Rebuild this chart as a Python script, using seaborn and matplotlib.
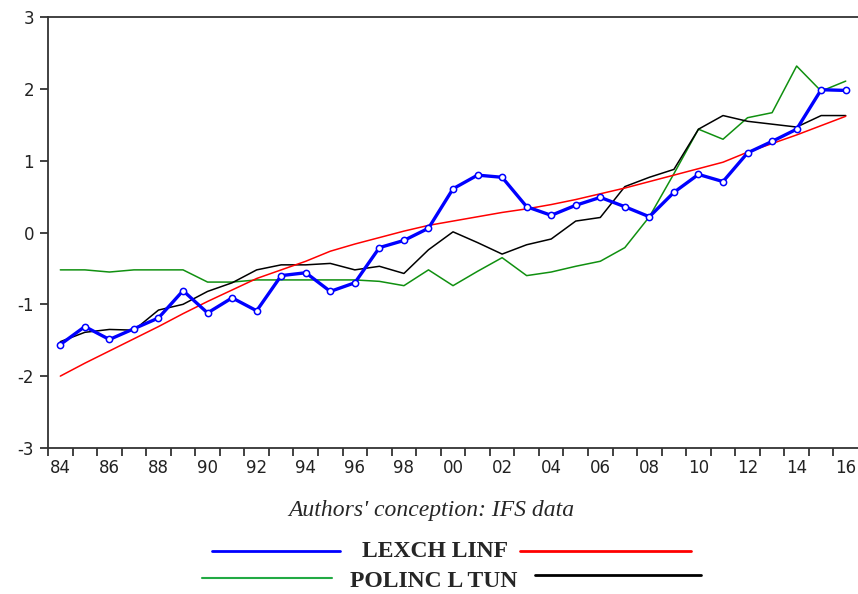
import numpy as np
import pandas as pd
import seaborn as sns
import matplotlib
matplotlib.use("Agg")
import matplotlib.pyplot as plt
from matplotlib.lines import Line2D
from matplotlib.ticker import FixedLocator, FuncFormatter

# annual series, 1984-2016
years = list(range(1984, 2017))
lexch = [-1.56, -1.31, -1.49, -1.34, -1.19, -0.81, -1.12, -0.91, -1.09, -0.60, -0.56,
         -0.82, -0.70, -0.21, -0.11, 0.06, 0.61, 0.80, 0.77, 0.36, 0.24, 0.38, 0.49,
         0.36, 0.22, 0.56, 0.81, 0.71, 1.11, 1.27, 1.44, 1.99, 1.98]
linf = [-2.00, -1.82, -1.65, -1.48, -1.31, -1.13, -0.96, -0.80, -0.64, -0.52, -0.40,
        -0.26, -0.16, -0.07, 0.02, 0.10, 0.16, 0.22, 0.28, 0.33, 0.39, 0.46, 0.54,
        0.62, 0.71, 0.80, 0.89, 0.98, 1.12, 1.24, 1.36, 1.49, 1.62]
polinc = [-0.52, -0.52, -0.55, -0.52, -0.52, -0.52, -0.69, -0.69, -0.66, -0.66, -0.66,
          -0.66, -0.66, -0.68, -0.74, -0.52, -0.74, -0.54, -0.35, -0.60, -0.55, -0.47, -0.40,
          -0.21, 0.22, 0.82, 1.44, 1.30, 1.60, 1.67, 2.32, 1.97, 2.11]
ltun = [-1.52, -1.39, -1.35, -1.36, -1.08, -1.00, -0.82, -0.70, -0.52, -0.45, -0.45,
        -0.43, -0.52, -0.47, -0.57, -0.24, 0.01, -0.14, -0.30, -0.17, -0.09, 0.16, 0.21,
        0.64, 0.77, 0.88, 1.44, 1.63, 1.55, 1.51, 1.47, 1.63, 1.63]

df = pd.DataFrame({"year": years, "LEXCH": lexch, "LINF": linf, "POLINC": polinc, "LTUN": ltun})

sns.set_style("white")
plt.rcParams["axes.unicode_minus"] = False
plt.rcParams["font.family"] = ["DejaVu Sans"]

fig = plt.figure(figsize=(8.58, 5.94), dpi=100)
ax = fig.add_axes([0.056, 0.246, 0.944, 0.725])

# thin lines first, blue on top
sns.lineplot(data=df, x="year", y="POLINC", color="#109010", lw=1.1, ax=ax)
sns.lineplot(data=df, x="year", y="LTUN", color="black", lw=1.1, ax=ax)
sns.lineplot(data=df, x="year", y="LINF", color="red", lw=1.1, ax=ax)
sns.lineplot(data=df, x="year", y="LEXCH", color="#0000ff", lw=2.4, marker="o",
             markersize=4.5, markerfacecolor="white", markeredgecolor="#0000ff",
             markeredgewidth=1.1, ax=ax)

# eviews style: ticks at year boundaries, labels under every 2nd year
ax.set_xlim(years[0] - 0.5, years[-1] + 0.5)
ax.set_ylim(-3, 3)
ax.set_xlabel("")
ax.set_ylabel("")
ax.xaxis.set_minor_locator(FixedLocator([y - 0.5 for y in years]))
ax.xaxis.set_major_locator(FixedLocator(years[::2]))
ax.xaxis.set_major_formatter(FuncFormatter(lambda v, p: "%02d" % (int(round(v)) % 100)))
ax.yaxis.set_major_locator(FixedLocator([-3, -2, -1, 0, 1, 2, 3]))
ax.tick_params(axis="x", which="minor", direction="out", length=6, width=1.3,
               color="#333333", bottom=True)
ax.tick_params(axis="x", which="major", length=0, pad=8, labelsize=12,
               labelcolor="#222222")
ax.tick_params(axis="y", which="major", direction="out", length=6, width=1.3,
               color="#333333", left=True, pad=4, labelsize=12, labelcolor="#222222")
ax.spines["right"].set_visible(False)
for s in ["left", "bottom", "top"]:
    ax.spines[s].set_color("#333333")
    ax.spines[s].set_linewidth(1.3)

# caption
fig.text(0.503, 0.141, "Authors' conception: IFS data", ha="center", va="center",
         fontsize=17, style="italic", family="Liberation Serif")

# legend drawn by hand, as in the original layout
fig.add_artist(Line2D([0.247, 0.396], [0.072, 0.072], color="#0000ff", lw=2))
fig.add_artist(Line2D([0.606, 0.805], [0.072, 0.072], color="red", lw=2))
fig.add_artist(Line2D([0.235, 0.387], [0.027, 0.027], color="#22aa44", lw=1.5))
fig.add_artist(Line2D([0.623, 0.817], [0.032, 0.032], color="black", lw=2))
fig.text(0.507, 0.071, "LEXCH LINF", ha="center", va="center", fontsize=17,
         fontweight="bold", family="Liberation Serif")
fig.text(0.505, 0.021, "POLINC L TUN", ha="center", va="center", fontsize=17,
         fontweight="bold", family="Liberation Serif")

fig.savefig("out.png", dpi=100)
